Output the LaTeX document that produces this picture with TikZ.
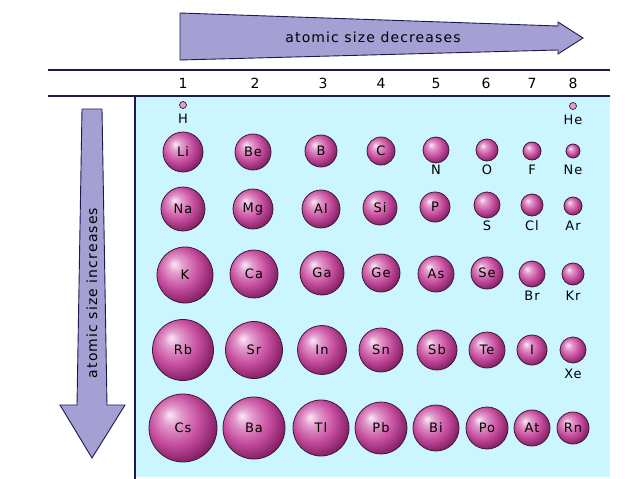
\documentclass[tikz,border=0pt]{standalone}
\usepackage{fontspec}
\setmainfont{DejaVu Sans}
\newfontfamily\lblfont[LetterSpace=8]{DejaVu Sans}
\definecolor{navy}{RGB}{26,26,80}
\definecolor{arrowfill}{RGB}{164,160,212}
\definecolor{panel}{RGB}{204,246,255}
\definecolor{sphHi}{RGB}{252,232,248}
\definecolor{sphMid}{RGB}{200,80,160}
\definecolor{sphDark}{RGB}{118,20,90}
\definecolor{sphLine}{RGB}{60,25,55}
\pgfdeclareradialshading{sphere}{\pgfpoint{-10bp}{10bp}}{color(0bp)=(sphHi); color(7bp)=(sphMid!50!sphHi); color(18bp)=(sphMid); color(32bp)=(sphDark); color(50bp)=(sphDark)}
\tikzset{
  atom/.style={circle, shading=sphere, draw=sphLine, line width=0.8pt, inner sep=0pt, minimum size=#1, font=\lblfont\fontsize{13}{13}\selectfont},
  tiny/.style={circle, fill=sphMid!55!white, draw=sphLine, line width=0.7pt, inner sep=0pt, minimum size=7pt},
  sym/.style={font=\lblfont\fontsize{13}{13}\selectfont, inner sep=0pt},
  head/.style={font=\lblfont\fontsize{14}{14}\selectfont, inner sep=0pt},
  bigarrow/.style={fill=arrowfill, draw=navy, line width=0.9pt, line join=miter},
  rule/.style={draw=navy, line width=2pt},
}
\begin{document}
\begin{tikzpicture}[x=1pt,y=-1pt]
\useasboundingbox (0,0) rectangle (638,479);
% panel
\fill[panel] (136,96) rectangle (610,477);
\draw[rule] (48,70) -- (610,70);
\draw[rule] (48,96) -- (610,96);
\draw[rule] (135,96) -- (135,479);
% top arrow
\filldraw[bigarrow] (180,13) -- (558,26) -- (558,22) -- (583,38) -- (558,54) -- (558,50) -- (180,60) -- cycle;
\node[head] (tArrow) at (373,37) {atomic size decreases};
% left arrow
\filldraw[bigarrow] (82,109) -- (102,109) -- (107,405) -- (125,405) -- (92,458) -- (60,405) -- (77,405) -- cycle;
\node[head, rotate=90] (lArrow) at (92,293) {atomic size increases};
% header numbers
\node[head] (g1) at (183,83) {1};
\node[head] (g2) at (255,83) {2};
\node[head] (g3) at (323,83) {3};
\node[head] (g4) at (381,83) {4};
\node[head] (g5) at (436,83) {5};
\node[head] (g6) at (486,83) {6};
\node[head] (g7) at (532,83) {7};
\node[head] (g8) at (573,83) {8};
% row 1
\node[tiny] (H) at (183,105) {};
\node[sym] (Hl) at (183,119) {H};
\node[tiny] (He) at (573,106) {};
\node[sym] (Hel) at (573,120) {He};
% row 2
\node[atom=40pt] (Li) at (183,152) {Li};
\node[atom=36pt] (Be) at (253,152) {Be};
\node[atom=32pt] (B) at (321,151) {B};
\node[atom=28pt] (C) at (381,151) {C};
\node[atom=26pt] (N) at (436,150) {};
\node[atom=22pt] (O) at (487,150) {};
\node[atom=18pt] (F) at (532,151) {};
\node[atom=14pt] (Ne) at (573,151) {};
\node[sym] (Nl) at (436,170) {N};
\node[sym] (Ol) at (487,170) {O};
\node[sym] (Fl) at (532,170) {F};
\node[sym] (Nel) at (573,170) {Ne};
% row 3
\node[atom=44pt] (Na) at (183,209) {Na};
\node[atom=40pt] (Mg) at (253,209) {Mg};
\node[atom=38pt] (Al) at (321,209) {Al};
\node[atom=34pt] (Si) at (380,208) {Si};
\node[atom=30pt] (P) at (435,207) {P};
\node[atom=26pt] (S) at (487,205) {};
\node[atom=22pt] (Cl) at (532,205) {};
\node[atom=18pt] (Ar) at (573,206) {};
\node[sym] (Sl) at (487,226) {S};
\node[sym] (Cll) at (532,226) {Cl};
\node[sym] (Arl) at (573,226) {Ar};
% row 4
\node[atom=56pt] (K) at (185,275) {K};
\node[atom=48pt] (Ca) at (254,274) {Ca};
\node[atom=44pt] (Ga) at (322,273) {Ga};
\node[atom=38pt] (Ge) at (381,273) {Ge};
\node[atom=36pt] (As) at (436,274) {As};
\node[atom=32pt] (Se) at (487,273) {Se};
\node[atom=26pt] (Br) at (532,274) {};
\node[atom=22pt] (Kr) at (573,274) {};
\node[sym] (Brl) at (532,296) {Br};
\node[sym] (Krl) at (573,296) {Kr};
% row 5
\node[atom=61pt] (Rb) at (183,350) {Rb};
\node[atom=57pt] (Sr) at (254,350) {Sr};
\node[atom=49pt] (In) at (322,350) {In};
\node[atom=44pt] (Sn) at (381,350) {Sn};
\node[atom=40pt] (Sb) at (437,350) {Sb};
\node[atom=36pt] (Te) at (487,350) {Te};
\node[atom=30pt] (I) at (532,350) {I};
\node[atom=26pt] (Xe) at (573,350) {};
\node[sym] (Xel) at (573,374) {Xe};
% row 6
\node[atom=68pt] (Cs) at (183,428) {Cs};
\node[atom=62pt] (Ba) at (254,428) {Ba};
\node[atom=56pt] (Tl) at (321,428) {Tl};
\node[atom=52pt] (Pb) at (381,428) {Pb};
\node[atom=46pt] (Bi) at (436,428) {Bi};
\node[atom=42pt] (Po) at (487,428) {Po};
\node[atom=36pt] (At) at (532,428) {At};
\node[atom=32pt] (Rn) at (573,428) {Rn};
\end{tikzpicture}
\end{document}
